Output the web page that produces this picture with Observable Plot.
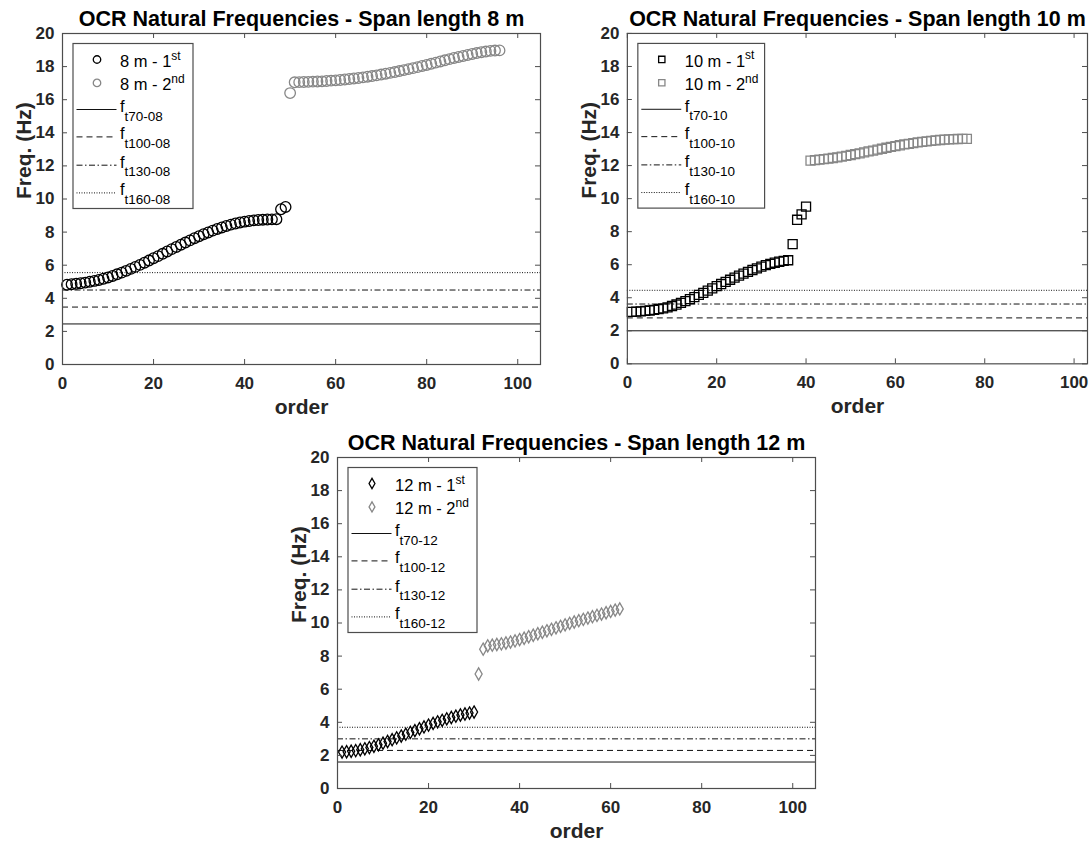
<!DOCTYPE html>
<html><head><meta charset="utf-8">
<script src="https://cdn.jsdelivr.net/npm/d3@7"></script>
<script src="https://cdn.jsdelivr.net/npm/@observablehq/plot@0.6"></script>
<style>
body{margin:0;background:#fff;}
#wrap{position:relative;width:1089px;height:841px;overflow:hidden;background:#fff;}
.panel{position:absolute;}
</style></head><body><div id="wrap"></div>
<script>
// ---------------- DATA ----------------
const xTicks = [0, 20, 40, 60, 80, 100];
const yTicks = [0, 2, 4, 6, 8, 10, 12, 14, 16, 18, 20];

// Span 8 m
const span8FirstStart = 1;
const span8First = [4.82,4.85,4.88,4.91,4.95,5.00,5.05,5.11,5.18,5.26,5.35,5.45,5.55,5.66,5.78,5.90,6.02,6.15,6.28,6.42,6.55,6.69,6.83,6.97,7.10,7.24,7.37,7.50,7.63,7.75,7.87,7.98,8.09,8.19,8.28,8.37,8.45,8.52,8.58,8.63,8.67,8.71,8.73,8.75,8.76,8.77,8.78,9.38,9.52];
const span8SecondStart = 50;
const span8Second = [16.40,17.05,17.06,17.07,17.08,17.09,17.10,17.11,17.13,17.15,17.17,17.19,17.22,17.25,17.28,17.31,17.35,17.39,17.43,17.47,17.52,17.57,17.62,17.67,17.73,17.79,17.85,17.91,17.97,18.04,18.10,18.17,18.24,18.31,18.38,18.45,18.52,18.58,18.64,18.70,18.76,18.82,18.87,18.91,18.95,18.97,18.98];
const span8Thresholds = [2.45, 3.47, 4.50, 5.55];
const span8ThresholdNames = ["t70-08", "t100-08", "t130-08", "t160-08"];

// Span 10 m
const span10FirstStart = 1;
const span10First = [3.15,3.16,3.18,3.20,3.23,3.27,3.31,3.36,3.42,3.50,3.59,3.69,3.80,3.92,4.04,4.17,4.30,4.43,4.57,4.70,4.83,4.96,5.09,5.22,5.34,5.46,5.57,5.68,5.78,5.88,5.97,6.05,6.12,6.18,6.23,6.27,7.25,8.72,9.05,9.52];
const span10SecondStart = 41;
const span10Second = [12.30,12.33,12.36,12.39,12.42,12.46,12.50,12.54,12.59,12.64,12.69,12.74,12.80,12.86,12.91,12.97,13.02,13.08,13.13,13.18,13.23,13.28,13.32,13.36,13.40,13.44,13.47,13.50,13.53,13.55,13.57,13.59,13.60,13.61,13.62,13.62];
const span10Thresholds = [2.00, 2.78, 3.62, 4.45];
const span10ThresholdNames = ["t70-10", "t100-10", "t130-10", "t160-10"];

// Span 12 m
const span12FirstStart = 1;
const span12First = [2.20,2.22,2.25,2.29,2.34,2.40,2.47,2.55,2.64,2.74,2.84,2.95,3.06,3.17,3.28,3.39,3.50,3.61,3.72,3.83,3.93,4.03,4.12,4.21,4.29,4.37,4.44,4.50,4.56,4.62];
const span12SecondStart = 31;
const span12Second = [6.92,8.42,8.62,8.66,8.70,8.74,8.79,8.85,8.92,9.00,9.08,9.17,9.26,9.35,9.44,9.53,9.62,9.71,9.80,9.89,9.98,10.06,10.14,10.22,10.30,10.38,10.46,10.54,10.62,10.70,10.78,10.85];
const span12Thresholds = [1.60, 2.30, 3.00, 3.70];
const span12ThresholdNames = ["t70-12", "t100-12", "t130-12", "t160-12"];

const titles = ["OCR Natural Frequencies - Span length 8 m", "OCR Natural Frequencies - Span length 10 m", "OCR Natural Frequencies - Span length 12 m"];
const spanNames = ["8 m", "10 m", "12 m"];

// ---------------- STYLE ----------------
const FONT = "'Liberation Sans', Arial, Helvetica, sans-serif";
const INK = "#262626";
const FRAME = "#4d4d4d";
const GREY = "#878787";
const lineDash = [null, "6,4", "6,2.5,1.5,2.5", "1,1.5"];

const panels = [
  {title: titles[0], span: spanNames[0], first: span8First, firstStart: span8FirstStart, second: span8Second, secondStart: span8SecondStart,
   thresholds: span8Thresholds, names: span8ThresholdNames, symbol: "circle", r: 5.3, lsize: 44,
   left: 0, top: 0, width: 545, height: 420, mL: 62, mR: 5, mT: 33, mB: 56, xMax: 105, legendW: 120},
  {title: titles[1], span: spanNames[1], first: span10First, firstStart: span10FirstStart, second: span10Second, secondStart: span10SecondStart,
   thresholds: span10Thresholds, names: span10ThresholdNames, symbol: "square", r: 5.1, lsize: 40,
   left: 545, top: 0, width: 545, height: 420, mL: 82, mR: 2, mT: 33, mB: 56, xMax: 103, legendW: 127},
  {title: titles[2], span: spanNames[2], first: span12First, firstStart: span12FirstStart, second: span12Second, secondStart: span12SecondStart,
   thresholds: span12Thresholds, names: span12ThresholdNames, symbol: "diamond", r: 3.7, lsize: 30,
   left: 270, top: 420, width: 560, height: 421, mL: 67, mR: 15, mT: 37, mB: 53, xMax: 105, legendW: 129}
];

const symbolTypes = {circle: d3.symbolCircle, square: d3.symbolSquare, diamond: d3.symbolDiamond};

function makePanel(p) {
  const firstData = p.first.map((v, i) => ({order: p.firstStart + i, freq: v}));
  const secondData = p.second.map((v, i) => ({order: p.secondStart + i, freq: v}));
  const plotW = p.width - p.mL - p.mR;
  const plotH = p.height - p.mT - p.mB;
  const marks = [];
  p.thresholds.forEach((v, i) => {
    marks.push(Plot.ruleY([v], {stroke: "#111", strokeWidth: 1, strokeDasharray: lineDash[i]}));
  });
  marks.push(Plot.dot(firstData, {x: "order", y: "freq", symbol: p.symbol, r: p.r, stroke: "#000", strokeWidth: 1.3, fill: "none"}));
  marks.push(Plot.dot(secondData, {x: "order", y: "freq", symbol: p.symbol, r: p.r, stroke: GREY, strokeWidth: 1.3, fill: "none"}));
  // inward ticks on all four sides
  marks.push(Plot.ruleY(yTicks, {stroke: FRAME, insetRight: plotW - 5}));
  marks.push(Plot.ruleY(yTicks, {stroke: FRAME, insetLeft: plotW - 5}));
  marks.push(Plot.ruleX(xTicks.filter(t => t <= p.xMax), {stroke: FRAME, insetTop: plotH - 5}));
  marks.push(Plot.ruleX(xTicks.filter(t => t <= p.xMax), {stroke: FRAME, insetBottom: plotH - 5}));
  marks.push(Plot.frame({stroke: FRAME, strokeWidth: 1.2}));
  // tick labels
  marks.push(Plot.axisX({ticks: xTicks, tickSize: 0, tickPadding: 12, label: null, fontSize: 17, fontWeight: "bold", fill: INK}));
  marks.push(Plot.axisY({ticks: yTicks, tickSize: 0, tickPadding: 8, label: null, fontSize: 17, fontWeight: "bold", fill: INK}));
  // titles & axis labels
  marks.push(Plot.text([p.title], {frameAnchor: "top", dy: -14, fontSize: 21.5, fontWeight: "bold", fill: "#000", lineAnchor: "middle"}));
  marks.push(Plot.text(["order"], {frameAnchor: "bottom", dy: 43, fontSize: 21, fontWeight: "bold", fill: INK, lineAnchor: "middle"}));
  marks.push(Plot.text(["Freq. (Hz)"], {frameAnchor: "left", dx: -38, rotate: -90, fontSize: 21, fontWeight: "bold", fill: INK, lineAnchor: "middle"}));

  const svg = Plot.plot({
    width: p.width, height: p.height,
    marginLeft: p.mL, marginRight: p.mR, marginTop: p.mT, marginBottom: p.mB,
    x: {domain: [0, p.xMax]},
    y: {domain: [0, 20]},
    style: {fontFamily: FONT, background: "transparent", overflow: "visible"},
    marks
  });

  // legend (inside the axes, top-left)
  const lx = p.mL + 11, ly = p.mT + 10.5;
  const g = d3.select(svg).append("g").attr("transform", `translate(${lx},${ly})`)
    .attr("font-family", FONT).attr("font-weight", "normal").attr("fill", "#000").attr("text-anchor", "start");
  g.append("rect").attr("width", p.legendW).attr("height", 165).attr("fill", "#fff").attr("stroke", FRAME).attr("stroke-width", 1.2);
  const sym = d3.symbol().type(symbolTypes[p.symbol]).size(p.lsize);
  const entries = [[p.span + " - 1", "st", "#000"], [p.span + " - 2", "nd", GREY]];
  entries.forEach((e, i) => {
    const yy = 16 + i * 23.4;
    g.append("path").attr("d", sym()).attr("transform", `translate(24,${yy})`).attr("fill", "none").attr("stroke", e[2]).attr("stroke-width", 1.3);
    const t = g.append("text").attr("x", 47).attr("y", yy + 7.5).attr("font-size", 16.5).attr("text-anchor", "start");
    t.append("tspan").text(e[0]);
    t.append("tspan").attr("dy", -7.5).attr("font-size", 12).text(e[1]);
  });
  const lineYs = [66, 93.4, 121.7, 149.4];
  p.names.forEach((nm, i) => {
    const yy = lineYs[i];
    const ln = g.append("line").attr("x1", 3.5).attr("x2", 43.5).attr("y1", yy).attr("y2", yy).attr("stroke", "#111").attr("stroke-width", 1);
    if (lineDash[i]) ln.attr("stroke-dasharray", lineDash[i]);
    const t = g.append("text").attr("x", 47).attr("y", yy + 2.5).attr("font-size", 16.5).attr("text-anchor", "start");
    t.append("tspan").text("f");
    t.append("tspan").attr("dy", 8.5).attr("font-size", 13.5).text(nm);
  });

  const div = document.createElement("div");
  div.className = "panel";
  div.style.left = p.left + "px";
  div.style.top = p.top + "px";
  div.appendChild(svg);
  document.getElementById("wrap").appendChild(div);
}

panels.forEach(makePanel);
</script>
</body></html>
